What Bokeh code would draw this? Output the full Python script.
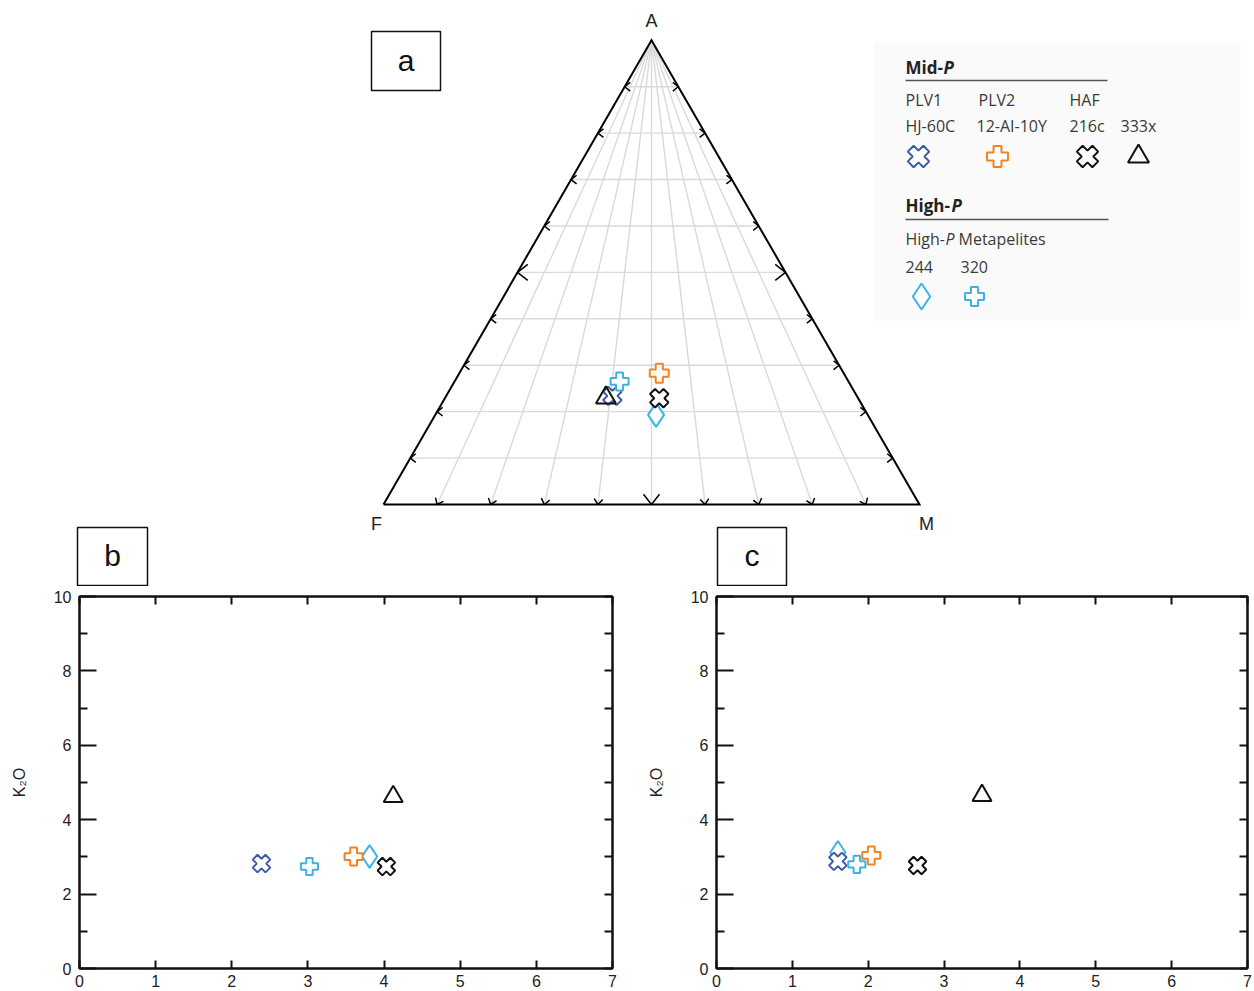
import math
from bokeh.plotting import figure
from bokeh.layouts import column, row
from bokeh.models import Range1d, LinearAxis, FixedTicker
from bokeh.core.properties import value
from bokeh.embed import file_html
from bokeh.resources import INLINE

# ---------------- data ----------------
samples = ["HJ-60C", "12-AI-10Y", "216c", "333x", "244", "320"]
# AFM ternary (percent)
A_pct = [23.4, 28.3, 22.9, 23.0, 19.3, 26.5]
F_pct = [45.6, 34.4, 37.1, 47.0, 39.5, 42.7]
M_pct = [31.0, 37.3, 40.0, 30.0, 41.2, 30.8]
# panel b
b_x = [2.39, 3.60, 4.03, 4.12, 3.81, 3.02]
b_k2o = [2.82, 3.01, 2.74, 4.62, 3.01, 2.74]
# panel c
c_x = [1.60, 2.04, 2.65, 3.50, 1.60, 1.85]
c_k2o = [2.88, 3.04, 2.77, 4.65, 3.12, 2.80]

x_ticks = [0, 1, 2, 3, 4, 5, 6, 7]
y_major = [0, 2, 4, 6, 8, 10]
y_minor = [1, 3, 5, 7, 9]
grid_steps = [0.1, 0.2, 0.3, 0.4, 0.5, 0.6, 0.7, 0.8, 0.9]

# ---------------- styles ----------------
BLUE = "#3d5aa8"
ORANGE = "#f58220"
BLACK = "#111111"
CYAN = "#3cb4e3"
colors = [BLUE, ORANGE, BLACK, BLACK, CYAN, CYAN]
markers = ["plus", "plus", "plus", "triangle", "diamond", "plus"]
angles = [math.pi / 4, 0, math.pi / 4, 0, 0, 0]
fills = ["white", "white", "white", None, "white", "white"]
size_scale = [19, 19, 19, 20, 24, 18]
draw_order = [4, 0, 5, 3, 1, 2]

ARIAL = value("Liberation Sans")
CAL = value("Open Sans")

# ---------------- top figure (ternary) ----------------
S = 536.0
FX, FY = 383.0, 504.0
X0, X1, Y0, Y1 = 0, 1254, 0, 586


def px(xp, yp):
    return (xp - FX) / S, (FY - yp) / S


H3 = math.sqrt(3) / 2

top = figure(width=X1 - X0, height=Y1 - Y0,
             x_range=Range1d((X0 - FX) / S, (X1 - FX) / S),
             y_range=Range1d((FY - Y1) / S, (FY - Y0) / S),
             output_backend="svg", toolbar_location=None,
             x_axis_location=None, y_axis_location=None, min_border=0)
top.grid.visible = False
top.outline_line_color = None
top.background_fill_color = "white"
top.border_fill_color = "white"


def tern(a, f, m):
    t = a + f + m
    a, m = a / t, m / t
    return m + a / 2, a * H3


Ax, Ay = 0.5, H3
# grid lines
gx, gy = [], []
for s in grid_steps:
    gx.append([s / 2, 1 - s / 2]); gy.append([s * H3, s * H3])
    gx.append([Ax, s]); gy.append([Ay, 0])
top.multi_line(gx, gy, line_color="#d9d9d9", line_width=1.4)

# triangle outline
top.line([0, 1, Ax, 0], [0, 0, Ay, 0], line_color="black", line_width=2, line_join="miter")

# chevron ticks
cx_l, cy_l = [], []
th = math.radians(38)
for s in grid_steps:
    L = (13 if abs(s - 0.5) < 1e-9 else 7) / S
    x, y = s / 2, s * H3
    cx_l.append([x + L * math.cos(th), x, x + L * math.cos(th)])
    cy_l.append([y + L * math.sin(th), y, y - L * math.sin(th)])
    x = 1 - s / 2
    cx_l.append([x - L * math.cos(th), x, x - L * math.cos(th)])
    cy_l.append([y + L * math.sin(th), y, y - L * math.sin(th)])
    ux, uy = s - Ax, 0 - Ay
    n = math.hypot(ux, uy)
    ux, uy = ux / n, uy / n
    e = []
    for sg in (1, -1):
        c, sn = math.cos(sg * th), math.sin(sg * th)
        rx, ry = ux * c - uy * sn, ux * sn + uy * c
        e.append((s - L * rx, 0 - L * ry))
    cx_l.append([e[0][0], s, e[1][0]])
    cy_l.append([e[0][1], 0, e[1][1]])
top.multi_line(cx_l, cy_l, line_color="black", line_width=1.5)

# apex labels
for t, (xp, yp) in zip(["A", "F", "M"], [(651, 20), (376, 523), (926, 523)]):
    x, y = px(xp, yp)
    top.text([x], [y], text=[t], text_font=ARIAL, text_font_size=value("18px"),
             text_align="center", text_baseline="middle", text_color="#222222")

# ternary points
for i in draw_order:
    x, y = tern(A_pct[i], F_pct[i], M_pct[i])
    top.scatter([x], [y], marker=markers[i], size=size_scale[i], angle=angles[i],
                fill_color=fills[i], line_color=colors[i], line_width=2)

# panel boxes a, b, c
for t, (l, tp, r, bt) in zip(["a", "b", "c"], [(371, 31, 440, 90), (77, 527, 147, 585), (717, 527, 786, 585)]):
    x0, y0 = px(l, bt)
    x1, y1 = px(r, tp)
    top.quad(left=[x0], right=[x1], bottom=[y0], top=[y1], fill_color="white",
             line_color="#111111", line_width=1.5)
    xc, yc = px((l + r) / 2, (tp + bt) / 2 - 1)
    top.text([xc], [yc], text=[t], text_font=ARIAL, text_font_size=value("30px"),
             text_align="center", text_baseline="middle", text_color="#111111")

# legend box
lx0, ly0 = px(873, 320)
lx1, ly1 = px(1240, 42)
top.quad(left=[lx0], right=[lx1], bottom=[ly0], top=[ly1], fill_color="#fafafa", line_color=None)


def ltext(t, xp, yp, size="16px", style="normal", color="#3a3a3a"):
    x, y = px(xp, yp)
    top.text([x], [y], text=[t], text_font=CAL, text_font_size=value(size), text_font_style=style,
             text_align="left", text_baseline="middle", text_color=color)


ltext("Mid-", 905, 67, "17px", "bold", "#222222")
ltext("P", 943, 67, "17px", "bold italic", "#222222")
hx, hy = px(905, 80)
hx2, _ = px(1107, 80)
top.line([hx, hx2], [hy, hy], line_color="#555555", line_width=1.5)
ltext("PLV1", 905, 99)
ltext("PLV2", 978, 99)
ltext("HAF", 1069, 99)
ltext(samples[0], 905, 125)
ltext(samples[1], 976, 125)
ltext(samples[2], 1069, 125)
ltext(samples[3], 1120, 125)

ltext("High-", 905, 205, "17px", "bold", "#222222")
ltext("P", 951, 205, "17px", "bold italic", "#222222")
hx, hy = px(905, 219)
hx2, _ = px(1108, 219)
top.line([hx, hx2], [hy, hy], line_color="#555555", line_width=1.5)
ltext("High-", 905, 238)
ltext("P", 945, 238, "16px", "italic")
ltext("Metapelites", 958, 238)
ltext(samples[4], 905, 266)
ltext(samples[5], 960, 266)

leg_pos = [(918, 156), (997, 156), (1087, 156), (1138, 156), (921, 296), (974, 296)]
leg_size = [22, 21, 22, 21, 26, 19]
for i, (xp, yp) in enumerate(leg_pos):
    x, y = px(xp, yp)
    top.scatter([x], [y], marker=markers[i], size=leg_size[i], angle=angles[i],
                fill_color=fills[i], line_color=colors[i], line_width=2)


# ---------------- xy panels ----------------
def make_panel(width, mbl, mbr, xs, ys):
    p = figure(width=width, height=405, x_range=Range1d(0, 7), y_range=Range1d(0, 10),
               output_backend="svg", toolbar_location=None,
               min_border_left=mbl, min_border_right=mbr, min_border_top=10, min_border_bottom=23)
    p.grid.visible = False
    p.outline_line_color = "#111111"
    p.outline_line_width = 2
    p.background_fill_color = "white"
    p.border_fill_color = "white"

    xa = p.xaxis[0]
    xa.ticker = FixedTicker(ticks=x_ticks)
    xa.major_tick_in = 8
    xa.major_tick_out = 0
    xa.minor_tick_in = 0
    xa.minor_tick_out = 0
    xa.major_label_standoff = 6

    ya = p.yaxis[0]
    ya.ticker = FixedTicker(ticks=y_major, minor_ticks=y_minor)
    ya.major_tick_in = 17
    ya.major_tick_out = 0
    ya.minor_tick_in = 8
    ya.minor_tick_out = 0
    ya.major_label_standoff = 8
    ya.axis_label = "K₂O"
    ya.axis_label_standoff = 23
    ya.axis_label_text_font = "Liberation Sans"
    ya.axis_label_text_font_style = "normal"
    ya.axis_label_text_font_size = "16px"
    ya.axis_label_text_color = "#222222"

    top_ax = LinearAxis(ticker=FixedTicker(ticks=x_ticks))
    top_ax.major_label_overrides = {t: "" for t in x_ticks}
    right_ax = LinearAxis(ticker=FixedTicker(ticks=list(range(11))))
    right_ax.major_label_overrides = {t: "" for t in range(11)}
    for ax in (top_ax, right_ax):
        ax.major_tick_in = 8
        ax.major_tick_out = 0
        ax.minor_tick_in = 0
        ax.minor_tick_out = 0
        ax.major_label_standoff = 0
        ax.major_label_text_font_size = "1px"
    p.add_layout(top_ax, "above")
    p.add_layout(right_ax, "right")

    for ax in (xa, ya, top_ax, right_ax):
        ax.axis_line_color = "#111111"
        ax.axis_line_width = 2
        ax.major_tick_line_color = "#111111"
        ax.major_tick_line_width = 2
        ax.minor_tick_line_color = "#111111"
        ax.minor_tick_line_width = 2
    for ax in (xa, ya):
        ax.major_label_text_font = "Liberation Sans"
        ax.major_label_text_font_size = "16px"
        ax.major_label_text_color = "#222222"

    for i in draw_order:
        p.scatter([xs[i]], [ys[i]], marker=markers[i], size=size_scale[i] * 0.95, angle=angles[i],
                  fill_color=fills[i], line_color=colors[i], line_width=2)
    return p


pb = make_panel(640, 79, 28, b_x, b_k2o)
pc = make_panel(614, 76, 7, c_x, c_k2o)

layout = column(top, row(pb, pc, spacing=0), spacing=0)

with open("out.html", "w") as fh:
    fh.write(file_html(layout, INLINE))
